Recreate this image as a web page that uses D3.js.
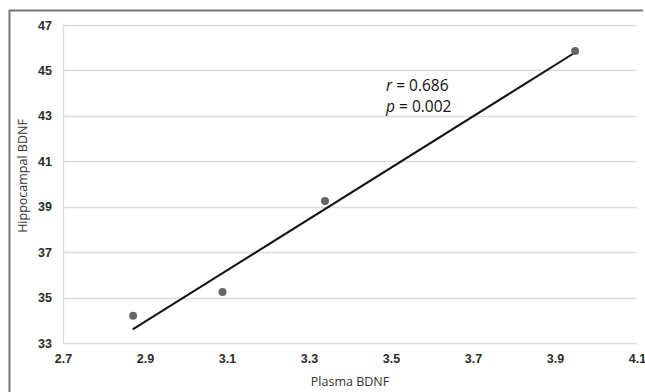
<!DOCTYPE html>
<html>
<head>
<meta charset="utf-8">
<script src="https://cdn.jsdelivr.net/npm/d3@7"></script>
<style>
  body { margin: 0; background: #fff; }
  svg { font-family: "Open Sans", sans-serif; }
</style>
</head>
<body>
<div id="app"></div>
<script>
// values
const plasma = [2.871, 3.089, 3.339, 3.949];
const hippocampal = [34.2, 35.25, 39.25, 45.85];
const trendX = [2.87, 3.95];
const trendY = [33.6, 45.8];
const xTicks = [2.7, 2.9, 3.1, 3.3, 3.5, 3.7, 3.9, 4.1];
const yTicks = [33, 35, 37, 39, 41, 43, 45, 47];

const width = 645;
const height = 392;
const margin = { top: 25, right: 8, bottom: 49, left: 63 };

const svg = d3.select('#app')
  .append('svg')
  .attr('width', width)
  .attr('height', height);

// outer frame (left + top edges visible)
svg.append('path')
  .attr('d', `M9.5,${height} V10.5 H${width - 2}`)
  .attr('fill', 'none')
  .attr('stroke', '#777')
  .attr('stroke-width', 2);

const x = d3.scaleLinear()
  .domain([2.7, 4.1])
  .range([margin.left, width - margin.right]);

const y = d3.scaleLinear()
  .domain([33, 47])
  .range([height - margin.bottom, margin.top]);

// gridlines
svg.append('g')
  .selectAll('line')
  .data(yTicks)
  .join('line')
  .attr('x1', x(2.7))
  .attr('x2', x(4.1))
  .attr('y1', d => Math.round(y(d)) + 0.5)
  .attr('y2', d => Math.round(y(d)) + 0.5)
  .attr('stroke', '#dcdcdc')
  .attr('stroke-width', 1.3);

svg.append('line')
  .attr('x1', Math.round(x(2.7)) + 0.5)
  .attr('x2', Math.round(x(2.7)) + 0.5)
  .attr('y1', y(47))
  .attr('y2', y(33))
  .attr('stroke', '#dcdcdc')
  .attr('stroke-width', 1.3);

// axes
const xAxis = svg.append('g')
  .attr('transform', `translate(0,${height - margin.bottom})`)
  .call(d3.axisBottom(x).tickValues(xTicks).tickFormat(d3.format('.1f')).tickSize(0).tickPadding(11));

const yAxis = svg.append('g')
  .attr('transform', `translate(${margin.left},0)`)
  .call(d3.axisLeft(y).tickValues(yTicks).tickFormat(d3.format('d')).tickSize(0).tickPadding(11));

[xAxis, yAxis].forEach(g => {
  g.select('.domain').remove();
  g.selectAll('text')
    .attr('fill', '#2b2b2b')
    .attr('font-size', 12.5)
    .attr('font-weight', 700);
});

// trend line
svg.append('line')
  .attr('x1', x(trendX[0]))
  .attr('y1', y(trendY[0]))
  .attr('x2', x(trendX[1]))
  .attr('y2', y(trendY[1]))
  .attr('stroke', '#111')
  .attr('stroke-width', 2);

// points
svg.append('g')
  .selectAll('circle')
  .data(plasma.map((v, i) => [v, hippocampal[i]]))
  .join('circle')
  .attr('cx', d => x(d[0]))
  .attr('cy', d => y(d[1]))
  .attr('r', 4)
  .attr('fill', '#666');

// axis titles
svg.append('text')
  .attr('x', x(3.4))
  .attr('y', 386)
  .attr('text-anchor', 'middle')
  .attr('font-size', 12.5)
  .attr('fill', '#333')
  .text('Plasma BDNF');

svg.append('text')
  .attr('transform', 'translate(27,176) rotate(-90)')
  .attr('text-anchor', 'middle')
  .attr('font-size', 12.5)
  .attr('fill', '#333')
  .text('Hippocampal BDNF');

// annotation
const note = svg.append('text')
  .attr('font-size', 15.5)
  .attr('fill', '#111');
note.append('tspan').attr('x', 386).attr('y', 91).attr('font-style', 'italic').text('r');
note.append('tspan').text(' = 0.686');
note.append('tspan').attr('x', 386).attr('y', 112).attr('font-style', 'italic').text('p');
note.append('tspan').text(' = 0.002');
</script>
</body>
</html>
